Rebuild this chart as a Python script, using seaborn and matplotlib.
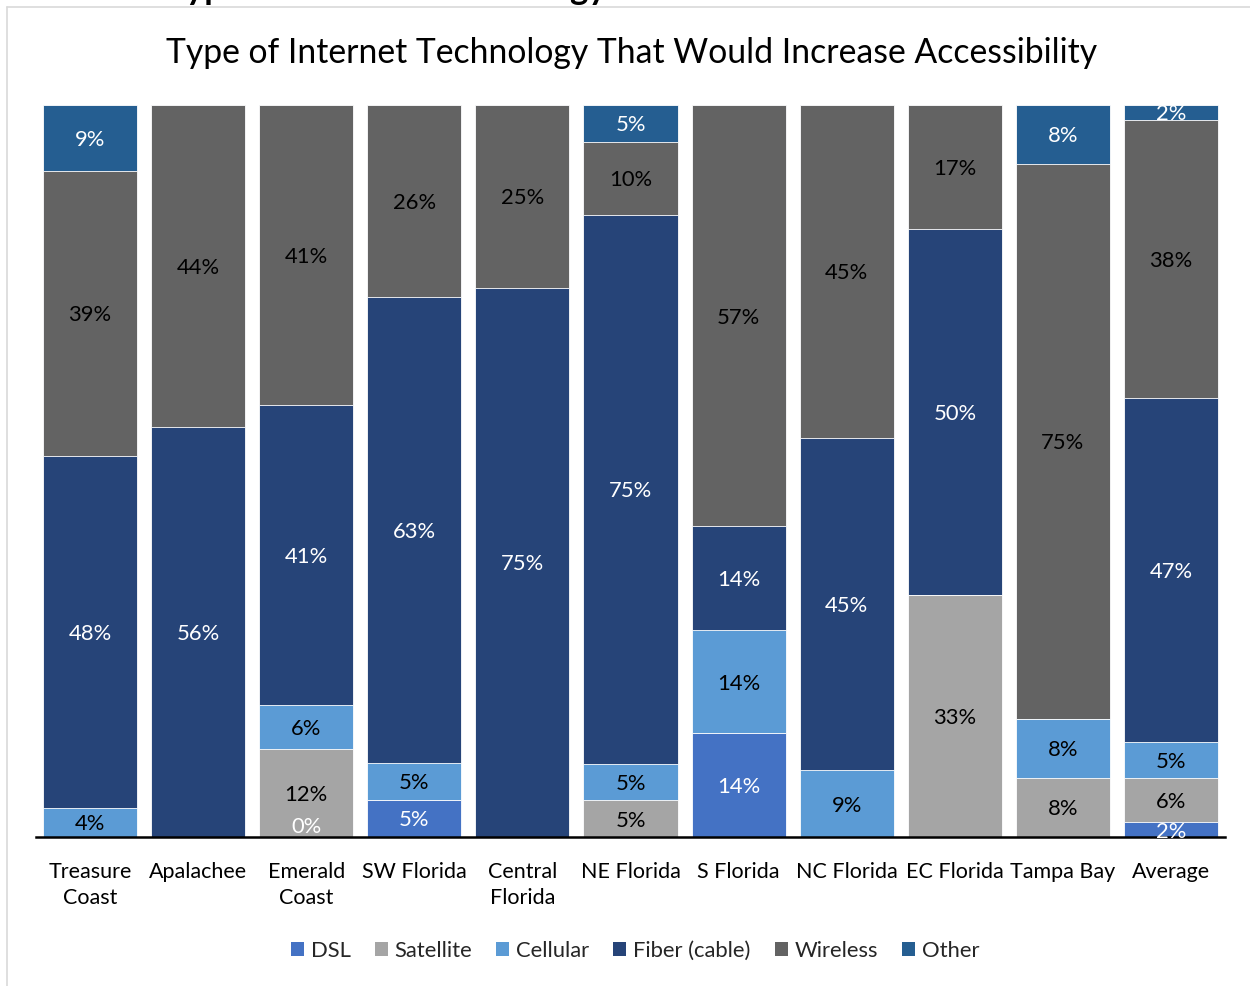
import numpy as np
import pandas as pd
import matplotlib
matplotlib.use("Agg")
import matplotlib.pyplot as plt
from matplotlib.patches import Patch
from matplotlib.lines import Line2D
import seaborn as sns

# Survey results by region (percent of respondents); None = no responses
regions = ["Treasure\nCoast", "Apalachee", "Emerald\nCoast", "SW Florida", "Central\nFlorida",
           "NE Florida", "S Florida", "NC Florida", "EC Florida", "Tampa Bay", "Average"]
dsl = [None, None, 0, 5, None, None, 14, None, None, None, 2]
satellite = [None, None, 12, None, None, 5, None, None, 33, 8, 6]
cellular = [4, None, 6, 5, None, 5, 14, 9, None, 8, 5]
fiber = [48, 56, 41, 63, 75, 75, 14, 45, 50, None, 47]
wireless = [39, 44, 41, 26, 25, 10, 57, 45, 17, 75, 38]
other = [9, None, None, None, None, 5, None, None, None, 8, 2]

series_names = ["DSL", "Satellite", "Cellular", "Fiber (cable)", "Wireless", "Other"]
series_values = [dsl, satellite, cellular, fiber, wireless, other]
series_colors = ["#4472C4", "#A5A5A5", "#5B9BD5", "#264478", "#636363", "#255E91"]
label_colors = ["white", "black", "black", "white", "black", "white"]

df = pd.DataFrame({n: pd.to_numeric(pd.Series(v), errors="coerce") for n, v in zip(series_names, series_values)})
df.index = regions
# 100% stacked: scale every region to its own total
share = df.fillna(0).div(df.fillna(0).sum(axis=1), axis=0) * 100
cum_top = share.cumsum(axis=1)
cum_bottom = cum_top - share

sns.set_theme(style="white")
plt.rcParams["font.family"] = ["Lato", "DejaVu Sans"]

fig = plt.figure(figsize=(12.5, 9.86), dpi=100)
ax = fig.add_axes([0.0288, 0.1511, 0.98 - 0.0288, 0.8935 - 0.1511])

# Draw cumulative bars from the top layer down so each layer covers the one beneath
for name, color in reversed(list(zip(series_names, series_colors))):
    plot_df = pd.DataFrame({"region": regions, "top": cum_top[name].values})
    sns.barplot(data=plot_df, x="region", y="top", order=regions, color=color,
                saturation=1, width=0.87, edgecolor="white", linewidth=0.6, ax=ax)

# Segment value labels
for i, region in enumerate(regions):
    for name, tc in zip(series_names, label_colors):
        val = df.loc[region, name]
        if pd.isna(val):
            continue
        if val == 0:
            ypos = 1.6
        else:
            ypos = (cum_bottom.loc[region, name] + cum_top.loc[region, name]) / 2
        ax.text(i, ypos - 0.25, f"{val:.0f}%", ha="center", va="center", color=tc, fontsize=15.8)

ax.set_xlim(-0.5, len(regions) - 0.5)
ax.set_ylim(0, 100)
ax.set_xlabel("")
ax.set_ylabel("")
ax.set_yticks([])
ax.set_xticks(range(len(regions)))
ax.set_xticklabels(regions, fontsize=15.5, color="black", linespacing=1.4)
ax.tick_params(axis="x", length=0, pad=18)
for side in ["top", "right", "left"]:
    ax.spines[side].set_visible(False)
ax.spines["bottom"].set_color("black")
ax.spines["bottom"].set_linewidth(1.8)
ax.set_facecolor("white")

# Chart title
fig.text(0.505, 0.946, "Type of Internet Technology That Would Increase Accessibility",
         ha="center", va="center", fontsize=24.3, color="black")

# Heading of the page above the chart, cut off at the top edge
fig.text(0.132, 1.0 + 1.0 / 986, "Type of Internet Technology", ha="left", va="baseline",
         fontsize=25, fontweight="bold", color="black")

# Chart area border
fig.add_artist(Line2D([7 / 1250, 7 / 1250], [0, 1 - 7 / 986], color="#d9d9d9", lw=1.2))
fig.add_artist(Line2D([7 / 1250, 1], [1 - 7 / 986, 1 - 7 / 986], color="#d9d9d9", lw=1.2))

# Legend
handles = [Patch(facecolor=c, edgecolor="none", label=n) for n, c in zip(series_names, series_colors)]
fig.legend(handles=handles, loc="center", bbox_to_anchor=(0.508, 1 - 951 / 986), ncol=6,
           frameon=False, fontsize=15.8, handlelength=0.6, handleheight=0.6,
           handletextpad=0.3, columnspacing=1.1)

fig.savefig("out.png", dpi=100, facecolor="white")
